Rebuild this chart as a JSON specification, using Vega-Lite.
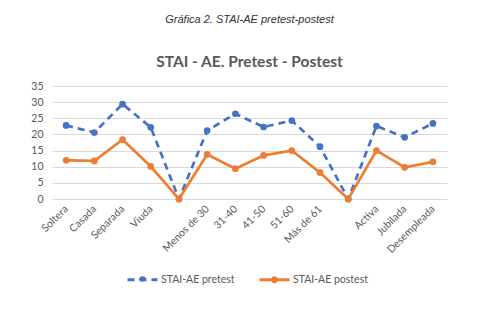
{
  "$schema": "https://vega.github.io/schema/vega-lite/v6.json",
  "width": 395,
  "height": 113,
  "autosize": "none",
  "padding": {"left": 52, "top": 86, "right": 51, "bottom": 117},
  "background": "white",
  "config": {"view": {"stroke": null}, "font": "Lato"},
  "title": {
    "text": "Gráfica 2. STAI-AE pretest-postest",
    "font": "Liberation Sans",
    "fontStyle": "italic",
    "fontWeight": "normal",
    "fontSize": 11,
    "color": "#333333",
    "subtitle": "STAI - AE. Pretest - Postest",
    "subtitleFont": "Lato",
    "subtitleFontSize": 15.5,
    "subtitleFontWeight": "bold",
    "subtitleColor": "#595959",
    "subtitlePadding": 30,
    "anchor": "middle",
    "offset": 11
  },
  "data": {
    "values": [
      {"cat": "Soltera", "serie": "STAI-AE pretest", "valor": 22.8},
      {"cat": "Casada", "serie": "STAI-AE pretest", "valor": 20.6},
      {"cat": "Separada", "serie": "STAI-AE pretest", "valor": 29.4},
      {"cat": "Viuda", "serie": "STAI-AE pretest", "valor": 22.2},
      {"cat": " ", "serie": "STAI-AE pretest", "valor": 0},
      {"cat": "Menos de 30", "serie": "STAI-AE pretest", "valor": 21.2},
      {"cat": "31-40", "serie": "STAI-AE pretest", "valor": 26.4},
      {"cat": "41-50", "serie": "STAI-AE pretest", "valor": 22.3},
      {"cat": "51-60", "serie": "STAI-AE pretest", "valor": 24.3},
      {"cat": "Más de 61", "serie": "STAI-AE pretest", "valor": 16.2},
      {"cat": "  ", "serie": "STAI-AE pretest", "valor": 0},
      {"cat": "Activa", "serie": "STAI-AE pretest", "valor": 22.6},
      {"cat": "Jubilada", "serie": "STAI-AE pretest", "valor": 19.1},
      {"cat": "Desempleada", "serie": "STAI-AE pretest", "valor": 23.4},
      {"cat": "Soltera", "serie": "STAI-AE postest", "valor": 12.0},
      {"cat": "Casada", "serie": "STAI-AE postest", "valor": 11.8},
      {"cat": "Separada", "serie": "STAI-AE postest", "valor": 18.4},
      {"cat": "Viuda", "serie": "STAI-AE postest", "valor": 10.1},
      {"cat": " ", "serie": "STAI-AE postest", "valor": 0},
      {"cat": "Menos de 30", "serie": "STAI-AE postest", "valor": 13.8},
      {"cat": "31-40", "serie": "STAI-AE postest", "valor": 9.4},
      {"cat": "41-50", "serie": "STAI-AE postest", "valor": 13.5},
      {"cat": "51-60", "serie": "STAI-AE postest", "valor": 15.0},
      {"cat": "Más de 61", "serie": "STAI-AE postest", "valor": 8.2},
      {"cat": "  ", "serie": "STAI-AE postest", "valor": 0},
      {"cat": "Activa", "serie": "STAI-AE postest", "valor": 15.0},
      {"cat": "Jubilada", "serie": "STAI-AE postest", "valor": 9.8},
      {"cat": "Desempleada", "serie": "STAI-AE postest", "valor": 11.5}
    ]
  },
  "encoding": {
    "x": {
      "field": "cat",
      "type": "ordinal",
      "sort": null,
      "scale": {"type": "point", "padding": 0.5},
      "axis": {
        "title": null,
        "labelAngle": -45,
        "labelAlign": "right",
        "labelBaseline": "middle",
        "labelPadding": 8,
        "labelFontSize": 10.5,
        "labelColor": "#595959",
        "domain": false,
        "ticks": false,
        "grid": false
      }
    },
    "y": {
      "field": "valor",
      "type": "quantitative",
      "scale": {"domain": [0, 35], "nice": false},
      "axis": {
        "title": null,
        "values": [0, 5, 10, 15, 20, 25, 30, 35],
        "grid": true,
        "gridColor": "#d9d9d9",
        "domain": false,
        "ticks": false,
        "labelPadding": 9,
        "labelFontSize": 10.5,
        "labelColor": "#595959"
      }
    },
    "color": {
      "field": "serie",
      "type": "nominal",
      "sort": null,
      "scale": {"domain": ["STAI-AE pretest", "STAI-AE postest"], "range": ["#4472C4", "#ED7D31"]},
      "legend": {
        "title": null,
        "orient": "none",
        "legendX": 79,
        "legendY": 182,
        "direction": "horizontal",
        "labelFontSize": 10.5,
        "labelColor": "#595959",
        "symbolType": "M-1.5,0L1.5,0M-0.2,0A0.2,0.2 0 1,1 0.2,0A0.2,0.2 0 1,1 -0.2,0",
        "symbolSize": 400,
        "symbolStrokeWidth": 3,
        "columnPadding": 18,
        "labelOffset": 7,
        "encode": {"symbols": {"update": {"fill": {"scale": "color", "field": "value"}}}}
      }
    }
  },
  "layer": [
    {
      "mark": {"type": "line", "strokeWidth": 2.7},
      "encoding": {
        "strokeDash": {
          "field": "serie",
          "type": "nominal",
          "sort": null,
          "scale": {"domain": ["STAI-AE pretest", "STAI-AE postest"], "range": [[7, 5], [1, 0]]},
          "legend": {
            "title": null,
            "orient": "none",
            "legendX": 79,
            "legendY": 182,
            "direction": "horizontal",
            "labelFontSize": 10.5,
            "labelColor": "#595959",
            "symbolType": "M-1.5,0L1.5,0M-0.2,0A0.2,0.2 0 1,1 0.2,0A0.2,0.2 0 1,1 -0.2,0",
            "symbolSize": 400,
            "symbolStrokeWidth": 3,
            "columnPadding": 18,
            "labelOffset": 7
          }
        }
      }
    },
    {
      "mark": {"type": "point", "filled": true, "size": 45, "opacity": 1}
    }
  ]
}
